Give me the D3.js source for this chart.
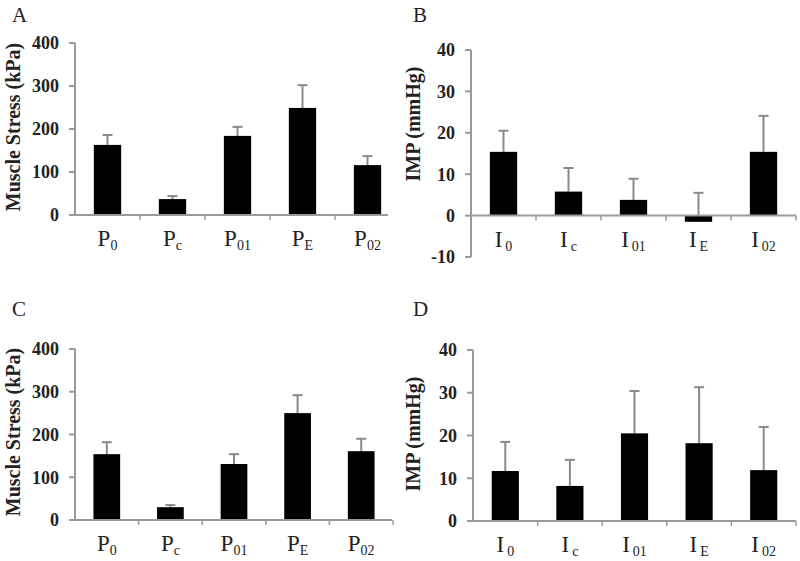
<!DOCTYPE html>
<html><head><meta charset="utf-8">
<script src="https://cdn.jsdelivr.net/npm/d3@7"></script>
<style>body{margin:0;background:#fff}svg{display:block}</style>
</head><body>
<svg id="chart" width="800" height="561"></svg>
<script>
// ---- data ----
const categoriesP = ["P0", "Pc", "P01", "PE", "P02"];
const categoriesI = ["I0", "Ic", "I01", "IE", "I02"];
const valuesA = [163, 37, 184, 249, 116];
const errorsA = [23, 7, 21, 53, 21];
const valuesB = [15.4, 5.8, 3.8, -1.5, 15.4];
const errorsB = [5.1, 5.7, 5.1, 7.0, 8.7];
const valuesC = [154, 30, 131, 250, 161];
const errorsC = [28, 5, 23, 42, 29];
const valuesD = [11.7, 8.2, 20.5, 18.2, 11.9];
const errorsD = [6.8, 6.1, 9.9, 13.1, 10.1];
const ticksStress = [0, 100, 200, 300, 400];
const ticksIMPB = [-10, 0, 10, 20, 30, 40];
const ticksIMPD = [0, 10, 20, 30, 40];
const titleStress = "Muscle Stress (kPa)";
const titleIMP = "IMP (mmHg)";

const svg = d3.select("#chart");
const FONT = "'Liberation Serif','Times New Roman',serif";
const AXIS = "#9a9a9a";
const ERR = "#8a8a8a";

function panel(o) {
  const g = svg.append("g");
  const x = d3.scaleBand().domain(o.cats).range([o.x0, o.x1])
    .paddingInner(0.58).paddingOuter(0.29);
  const y = d3.scaleLinear().domain(o.domain).range([o.yBottom, o.yTop]);
  const step = x.step();
  const start = o.x0;
  const data = o.cats.map((c, i) => ({c, v: o.values[i], e: o.errors[i]}));

  // panel letter
  g.append("text").attr("x", o.letterX).attr("y", o.letterY)
    .attr("font-family", FONT).attr("font-size", 21).attr("fill", "#222").text(o.letter);

  // y axis line
  g.append("line").attr("x1", o.x0).attr("x2", o.x0)
    .attr("y1", y(o.domain[0])).attr("y2", y(o.domain[1]))
    .attr("stroke", AXIS).attr("stroke-width", 2);
  // y ticks
  o.ticks.forEach(t => {
    g.append("line").attr("x1", o.x0 - 6).attr("x2", o.x0)
      .attr("y1", y(t)).attr("y2", y(t)).attr("stroke", AXIS).attr("stroke-width", 2);
    g.append("text").attr("x", o.x0 - 16).attr("y", y(t)).attr("dy", "0.35em")
      .attr("text-anchor", "end").attr("font-family", FONT).attr("font-weight", "bold")
      .attr("font-size", 18).attr("fill", "#222").text(t);
  });
  // y title
  g.append("text")
    .attr("transform", `translate(${o.titleX},${o.titleY}) rotate(-90)`)
    .attr("text-anchor", "middle").attr("dy", "0.35em")
    .attr("font-family", FONT).attr("font-weight", "bold").attr("font-size", 20)
    .attr("fill", "#222").text(o.title);

  // error bars (behind bars)
  data.forEach(d => {
    const cx = x(d.c) + x.bandwidth() / 2;
    g.append("line").attr("x1", cx).attr("x2", cx)
      .attr("y1", y(d.v)).attr("y2", y(d.v + d.e)).attr("stroke", ERR).attr("stroke-width", 2);
    g.append("line").attr("x1", cx - 5).attr("x2", cx + 5)
      .attr("y1", y(d.v + d.e)).attr("y2", y(d.v + d.e)).attr("stroke", ERR).attr("stroke-width", 2);
  });
  // bars
  g.selectAll("rect.bar").data(data).enter().append("rect")
    .attr("x", d => x(d.c)).attr("width", x.bandwidth())
    .attr("y", d => y(Math.max(0, d.v)))
    .attr("height", d => Math.abs(y(d.v) - y(0)))
    .attr("fill", "#000");

  // x axis line at 0
  const y0 = y(0);
  g.append("line").attr("x1", o.x0).attr("x2", o.axisEnd)
    .attr("y1", y0).attr("y2", y0).attr("stroke", AXIS).attr("stroke-width", 2);
  // category boundary ticks
  for (let i = 1; i <= o.cats.length; i++) {
    const tx = start + i * step;
    if (tx > o.axisEnd + 1) continue;
    g.append("line").attr("x1", tx).attr("x2", tx).attr("y1", y0).attr("y2", y0 + 5)
      .attr("stroke", AXIS).attr("stroke-width", 1.5);
  }
  // category labels
  data.forEach(d => {
    const cx = x(d.c) + x.bandwidth() / 2;
    const t = g.append("text").attr("x", cx).attr("y", y0 + 31)
      .attr("text-anchor", "middle").attr("font-family", FONT).attr("fill", "#222");
    t.append("tspan").attr("font-size", 23).text(d.c.charAt(0));
    t.append("tspan").attr("font-size", 14).attr("dy", 4).attr("dx", d.c.charAt(0) === "I" ? 3 : 0)
      .text(d.c.slice(1));
  });
}

panel({letter: "A", letterX: 12, letterY: 22, cats: categoriesP, values: valuesA, errors: errorsA,
  domain: [0, 400], ticks: ticksStress, x0: 75, x1: 400, axisEnd: 388, yTop: 43, yBottom: 215,
  title: titleStress, titleX: 13, titleY: 127});
panel({letter: "B", letterX: 413, letterY: 22, cats: categoriesI, values: valuesB, errors: errorsB,
  domain: [-10, 40], ticks: ticksIMPB, x0: 471, x1: 796, axisEnd: 796, yTop: 50, yBottom: 257,
  title: titleIMP, titleX: 413, titleY: 124});
panel({letter: "C", letterX: 12, letterY: 316, cats: categoriesP, values: valuesC, errors: errorsC,
  domain: [0, 400], ticks: ticksStress, x0: 75, x1: 393, axisEnd: 392, yTop: 349, yBottom: 520,
  title: titleStress, titleX: 13, titleY: 432});
panel({letter: "D", letterX: 413, letterY: 316, cats: categoriesI, values: valuesD, errors: errorsD,
  domain: [0, 40], ticks: ticksIMPD, x0: 473, x1: 796, axisEnd: 796, yTop: 350, yBottom: 521,
  title: titleIMP, titleX: 413, titleY: 434});
</script>
</body></html>
